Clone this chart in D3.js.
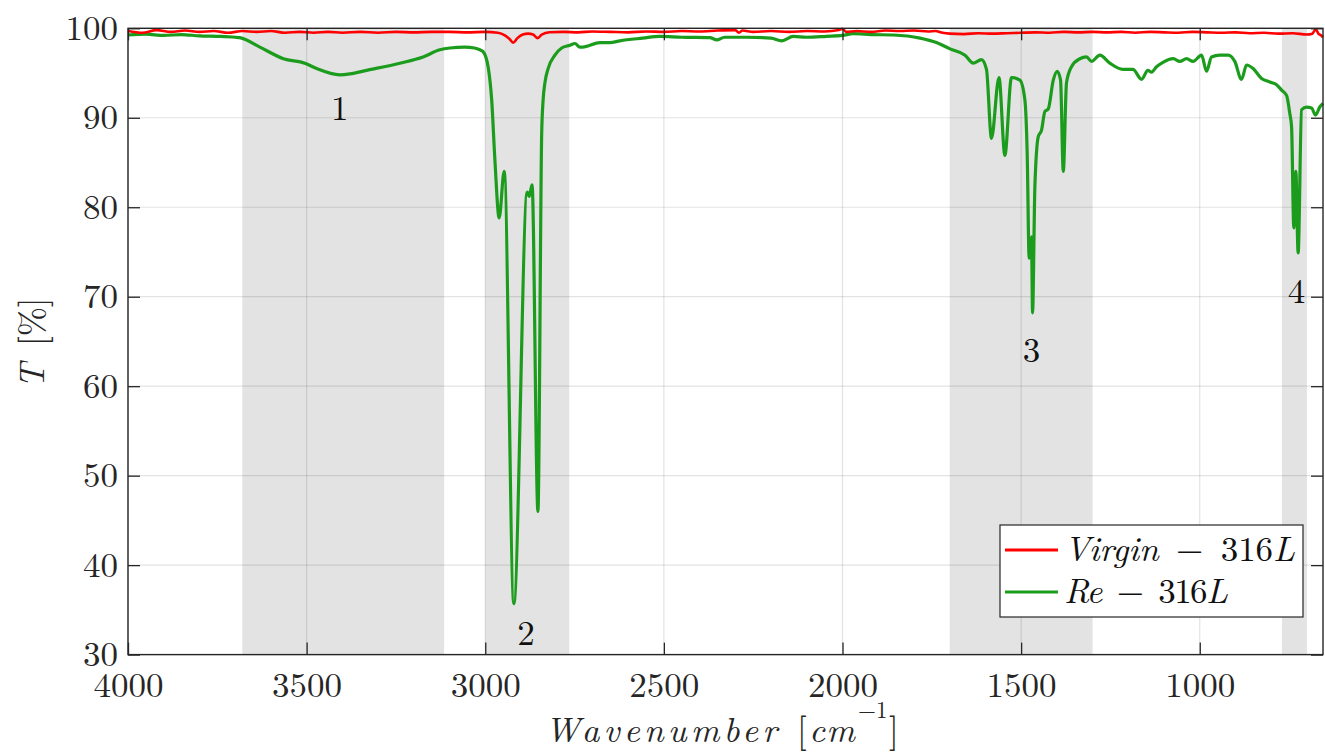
<!DOCTYPE html>
<html>
<head>
<meta charset="utf-8">
<script src="https://cdn.jsdelivr.net/npm/d3@7"></script>
<style>
  html, body { margin: 0; padding: 0; background: #fff; }
  svg { display: block; }
</style>
</head>
<body>
<svg id="chart" width="1325" height="752"></svg>
<script>
// ---------------- DATA ----------------
const xTicks = [4000, 3500, 3000, 2500, 2000, 1500, 1000];
const yTicks = [30, 40, 50, 60, 70, 80, 90, 100];
const xDomain = [4000, 655];
const yDomain = [30, 100];

const seriesNames = ["Virgin − 316L", "Re − 316L"];
const seriesColors = ["#ff0000", "#1c9c1c"];

// shaded absorption regions [from, to] in cm^-1
const bandRegions = [[3680, 3115], [3000, 2765], [1700, 1300], [770, 700]];
// region labels: text, wavenumber, T
const bandLabels = [["1", 3407, 89.75], ["2", 2886, 31.1], ["3", 1471, 62.7], ["4", 729, 69.3]];

// Virgin-316L  [wavenumber, T%]
const virginData = [
  [4000, 99.7], [3960, 99.5], [3920, 99.8], [3880, 99.6], [3840, 99.75], [3800, 99.6], [3760, 99.7],
  [3720, 99.5], [3680, 99.7], [3640, 99.6], [3600, 99.7], [3560, 99.5], [3520, 99.6], [3480, 99.5],
  [3440, 99.6], [3400, 99.5], [3350, 99.6], [3300, 99.5], [3250, 99.6], [3200, 99.55], [3150, 99.6],
  [3100, 99.6], [3050, 99.55], [3000, 99.6], [2965, 99.5], [2945, 99.2], [2932, 98.8], [2922, 98.4],
  [2910, 98.9], [2895, 99.3], [2880, 99.4], [2866, 99.3], [2853, 98.9], [2842, 99.3], [2820, 99.55],
  [2780, 99.6], [2740, 99.55], [2700, 99.65], [2650, 99.6], [2600, 99.55], [2550, 99.65], [2500, 99.6],
  [2450, 99.7], [2400, 99.65], [2350, 99.75], [2300, 99.8], [2290, 99.5], [2280, 99.75], [2250, 99.6],
  [2200, 99.7], [2150, 99.6], [2100, 99.7], [2050, 99.65], [2010, 99.8], [2000, 99.95], [1990, 99.6],
  [1960, 99.7], [1920, 99.6], [1880, 99.75], [1840, 99.7], [1800, 99.75], [1760, 99.65], [1740, 99.7],
  [1720, 99.5], [1700, 99.4], [1660, 99.35], [1620, 99.45], [1580, 99.4], [1540, 99.45], [1500, 99.5],
  [1460, 99.55], [1420, 99.5], [1380, 99.6], [1340, 99.55], [1300, 99.6], [1260, 99.55], [1220, 99.6],
  [1180, 99.5], [1140, 99.6], [1100, 99.55], [1060, 99.5], [1020, 99.6], [980, 99.55], [940, 99.5],
  [900, 99.55], [860, 99.45], [820, 99.5], [780, 99.4], [740, 99.45], [700, 99.3], [685, 99.4],
  [675, 99.9], [668, 99.4], [660, 99.2], [655, 99.0]
];

// Re-316L  [wavenumber, T%]
const reData = [
  [4000, 99.25], [3950, 99.35], [3900, 99.2], [3850, 99.3], [3800, 99.15], [3750, 99.1], [3700, 99.0],
  [3687, 98.95], [3631, 97.9], [3565, 96.6], [3505, 96.1], [3472, 95.5], [3407, 94.8], [3379, 94.9],
  [3332, 95.3], [3239, 96.1], [3174, 96.8], [3127, 97.6], [3099, 97.8], [3057, 97.9], [3030, 97.8],
  [3015, 97.6], [3006, 97.4], [2992, 95.7], [2982, 92.0], [2973, 85.3], [2961, 78.8], [2947, 84.0],
  [2920, 35.7], [2882.5, 81.7], [2877, 81.2], [2869, 82.5], [2852.5, 46.0], [2842, 88.3], [2838, 92.0],
  [2833, 93.9], [2824, 95.5], [2805, 97.0], [2786, 97.8], [2763, 98.1], [2749, 98.3], [2735, 97.9],
  [2727, 97.9], [2679, 98.4], [2651, 98.4], [2623, 98.6], [2559, 98.9], [2511, 99.1], [2450, 99.0],
  [2371, 98.95], [2352, 98.7], [2330, 99.0], [2268, 99.0], [2200, 98.9], [2170, 98.6], [2138, 99.1],
  [2100, 99.0], [2045, 99.1], [2000, 99.2], [1970, 99.4], [1920, 99.3], [1858, 99.25], [1783, 98.9],
  [1737, 98.4], [1699, 97.7], [1657, 97.0], [1634, 96.1], [1611, 96.5], [1597, 95.4], [1583, 87.7],
  [1562, 94.5], [1545.5, 85.8], [1527, 94.5], [1503.5, 94.2], [1489.5, 92.0], [1483, 86.0], [1477.5, 74.3],
  [1474, 75.5], [1471, 76.7], [1468, 68.2], [1461.5, 82.3], [1452, 87.9], [1443, 88.6], [1433.5, 90.7],
  [1424, 91.0], [1410, 94.2], [1399, 95.2], [1389.6, 94.2], [1382, 84.0], [1373, 93.9], [1359, 95.7],
  [1335.6, 96.6], [1317, 96.8], [1303, 96.3], [1279.6, 97.0], [1251.6, 96.1], [1215, 95.4], [1187, 95.4],
  [1163, 94.3], [1145, 95.3], [1135, 95.1], [1121, 95.7], [1103, 96.2], [1074, 96.6], [1056, 96.3],
  [1037, 96.6], [1018.5, 96.3], [995, 97.0], [981, 95.2], [967, 96.8], [944, 97.0], [920.5, 97.0],
  [902, 96.3], [883, 94.3], [869, 95.9], [850.6, 95.5], [827, 94.4], [804, 94.0], [785, 93.7],
  [771, 93.1], [757, 92.5], [748, 90.5], [743, 89.0], [736.7, 77.7], [731, 84.0], [724.6, 74.9],
  [715, 90.9], [701, 91.2], [687, 91.1], [676, 90.3], [664, 91.2], [655, 91.6]
];

const xLabelMain = "Wavenumber";
const xLabelUnit = "cm";
const xLabelExp = "−1";
const yLabelMain = "T";
const yLabelUnit = "[%]";

// ---------------- FONT PICK ----------------
function pickFont(list) {
  const ctx = document.createElement("canvas").getContext("2d");
  const s = "mmmmmmmmmmlliWW 0123456789 Virgin";
  for (const f of list) {
    for (const base of ["monospace", "sans-serif"]) {
      ctx.font = `40px ${base}`;
      const w0 = ctx.measureText(s).width;
      ctx.font = `40px "${f}", ${base}`;
      const w1 = ctx.measureText(s).width;
      if (Math.abs(w0 - w1) > 0.5) return `"${f}", serif`;
    }
  }
  return "serif";
}
const FONT = pickFont(["Latin Modern Roman", "CMU Serif", "Liberation Serif", "Tinos", "Times New Roman",
  "DejaVu Serif", "Noto Serif", "FreeSerif", "Nimbus Roman"]);

// ---------------- LAYOUT ----------------
const W = 1325, H = 752;
const margin = { left: 128, right: 2, top: 28.3, bottom: 97.4 };
const iw = W - margin.left - margin.right;
const ih = H - margin.top - margin.bottom;
const axisColor = "#262626";
const fontSize = 35;

const svg = d3.select("#chart").style("font-family", FONT);
const g = svg.append("g").attr("transform", `translate(${margin.left},${margin.top})`);

const x = d3.scaleLinear().domain(xDomain).range([0, iw]);
const y = d3.scaleLinear().domain(yDomain).range([ih, 0]);

// shaded regions
g.append("g").selectAll("rect").data(bandRegions).join("rect")
  .attr("x", d => x(d[0]))
  .attr("width", d => x(d[1]) - x(d[0]))
  .attr("y", 0).attr("height", ih)
  .attr("fill", "#e3e3e3");

// grid
const grid = g.append("g").attr("stroke", "rgba(38,38,38,0.13)").attr("stroke-width", 1.2);
grid.selectAll(".gx").data(xTicks).join("line")
  .attr("x1", d => x(d)).attr("x2", d => x(d)).attr("y1", 0).attr("y2", ih);
grid.selectAll(".gy").data(yTicks).join("line")
  .attr("y1", d => y(d)).attr("y2", d => y(d)).attr("x1", 0).attr("x2", iw);

// lines
const line = d3.line().x(d => x(d[0])).y(d => y(d[1])).curve(d3.curveMonotoneX);
g.append("path").datum(reData).attr("fill", "none").attr("stroke", seriesColors[1])
  .attr("stroke-width", 3.2).attr("stroke-linejoin", "round").attr("d", line);
g.append("path").datum(virginData).attr("fill", "none").attr("stroke", seriesColors[0])
  .attr("stroke-width", 2.6).attr("stroke-linejoin", "round").attr("d", line);

// band labels
g.append("g").selectAll("text").data(bandLabels).join("text")
  .attr("x", d => x(d[1])).attr("y", d => y(d[2]))
  .attr("text-anchor", "middle").attr("font-size", fontSize).attr("fill", "#111")
  .style("font-family", FONT)
  .text(d => d[0]);

// axes
function styleAxis(sel) {
  sel.attr("font-family", null).attr("font-size", null);
  sel.select(".domain").remove();
  sel.selectAll(".tick line").attr("stroke", axisColor).attr("stroke-width", 1.3);
  sel.selectAll(".tick text").attr("font-size", fontSize).attr("fill", axisColor)
    .style("font-family", FONT);
}
g.append("g").attr("transform", `translate(0,${ih})`)
  .call(d3.axisBottom(x).tickValues(xTicks).tickSizeInner(-12).tickSizeOuter(0).tickPadding(18).tickFormat(d3.format("d")))
  .call(styleAxis);
g.append("g")
  .call(d3.axisTop(x).tickValues(xTicks).tickSizeInner(-12).tickSizeOuter(0).tickFormat(""))
  .call(styleAxis);
g.append("g")
  .call(d3.axisLeft(y).tickValues(yTicks).tickSizeInner(-12).tickSizeOuter(0).tickPadding(10).tickFormat(d3.format("d")))
  .call(styleAxis);
g.append("g").attr("transform", `translate(${iw},0)`)
  .call(d3.axisRight(y).tickValues(yTicks).tickSizeInner(-12).tickSizeOuter(0).tickFormat(""))
  .call(styleAxis);

// frame
g.append("rect").attr("x", 0).attr("y", 0).attr("width", iw).attr("height", ih)
  .attr("fill", "none").attr("stroke", axisColor).attr("stroke-width", 1.4);

// helper: italic letters / upright others
function addMathText(textSel, str) {
  const runs = str.match(/[A-Za-z]+|[^A-Za-z]+/g);
  runs.forEach(r => {
    textSel.append("tspan").attr("font-style", /[A-Za-z]/.test(r) ? "italic" : "normal")
      .text(r.replace(/ /g, "\u00a0"));
  });
}

// legend
const lg = g.append("g").attr("transform", `translate(${1000 - margin.left},${525 - margin.top})`);
lg.append("rect").attr("width", 303).attr("height", 92)
  .attr("fill", "#fff").attr("stroke", axisColor).attr("stroke-width", 1.2);
const legendWidths = [231, 164];
seriesNames.forEach((name, i) => {
  const yy = 25 + i * 42;
  lg.append("line").attr("x1", 5).attr("x2", 58).attr("y1", yy).attr("y2", yy)
    .attr("stroke", seriesColors[i]).attr("stroke-width", 3);
  const t = lg.append("text").attr("x", 64).attr("y", yy + 11).attr("font-size", fontSize)
    .attr("fill", "#111").style("font-family", FONT)
    .attr("textLength", legendWidths[i]).attr("lengthAdjust", "spacing");
  addMathText(t, name);
});

// x-axis label (math style pieces)
const xBase = 742;
const xlab = svg.append("g").attr("fill", "#262626").style("font-family", FONT);
xlab.append("text").attr("x", 545).attr("y", xBase).attr("font-size", fontSize)
  .attr("font-style", "italic").attr("textLength", 232).attr("lengthAdjust", "spacing").text(xLabelMain);
xlab.append("text").attr("x", 797).attr("y", xBase).attr("font-size", fontSize).text("[");
xlab.append("text").attr("x", 809).attr("y", xBase).attr("font-size", fontSize)
  .attr("font-style", "italic").attr("textLength", 46).attr("lengthAdjust", "spacing").text(xLabelUnit);
xlab.append("text").attr("x", 858).attr("y", 718).attr("font-size", 23).text(xLabelExp);
xlab.append("text").attr("x", 889).attr("y", xBase).attr("font-size", fontSize).text("]");

// y-axis label
const yl = svg.append("text").attr("transform", "translate(44,343) rotate(-90)")
  .attr("text-anchor", "middle").attr("font-size", fontSize).attr("fill", "#262626")
  .style("font-family", FONT);
yl.append("tspan").attr("font-style", "italic").text(yLabelMain);
yl.append("tspan").text("\u00a0" + yLabelUnit);
</script>
</body>
</html>
